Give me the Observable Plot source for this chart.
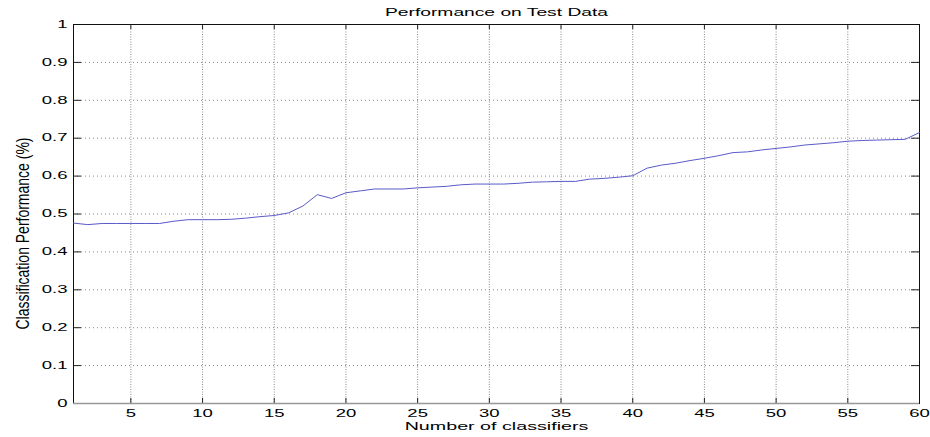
<!DOCTYPE html>
<html>
<head>
<meta charset="utf-8">
<script src="https://cdn.jsdelivr.net/npm/d3@7"></script>
<script src="https://cdn.jsdelivr.net/npm/@observablehq/plot@0.6"></script>
<style>
  html, body { margin: 0; padding: 0; background: #fff; }
  svg { display: block; }
</style>
</head>
<body>
<div id="chart"></div>
<script>
const classifiers = [1,2,3,4,5,6,7,8,9,10,11,12,13,14,15,16,17,18,19,20,21,22,23,24,25,26,27,28,29,30,
  31,32,33,34,35,36,37,38,39,40,41,42,43,44,45,46,47,48,49,50,51,52,53,54,55,56,57,58,59,60];
const performance = [0.476,0.472,0.475,0.475,0.475,0.475,0.475,0.481,0.485,0.485,
  0.485,0.486,0.489,0.493,0.496,0.503,0.521,0.551,0.541,0.556,
  0.561,0.566,0.566,0.566,0.569,0.571,0.573,0.577,0.579,0.579,
  0.579,0.581,0.584,0.585,0.586,0.586,0.592,0.594,0.597,0.601,
  0.621,0.629,0.634,0.641,0.647,0.654,0.662,0.664,0.669,0.673,
  0.677,0.682,0.685,0.688,0.692,0.694,0.695,0.696,0.697,0.715];
const xTicks = [5,10,15,20,25,30,35,40,45,50,55,60];
const xGrid = [5,10,15,20,25,30,35,40,45,50,55];
const yTicks = [0,0.1,0.2,0.3,0.4,0.5,0.6,0.7,0.8,0.9,1];
const yGrid = [0.1,0.2,0.3,0.4,0.5,0.6,0.7,0.8,0.9];
const titleText = "Performance on Test Data";
const xLabel = "Number of classifiers";
const yLabel = "Classification Performance (%)";

const data = classifiers.map((c, i) => ({n: c, p: performance[i]}));

const W = 930, H = 437, mL = 73, mR = 11, mT = 24, mB = 34;
const fw = W - mL - mR, fh = H - mT - mB;

const svg = Plot.plot({
  width: W, height: H,
  marginLeft: mL, marginRight: mR, marginTop: mT, marginBottom: mB,
  style: {fontFamily: "'Liberation Sans', Arial, sans-serif", fontSize: "10px", background: "#fff", color: "#000"},
  x: {domain: [1, 60], axis: null},
  y: {domain: [0, 1], axis: null},
  marks: [
    Plot.gridX(xGrid, {stroke: "#888", strokeOpacity: 1, strokeDasharray: "1,1.5"}),
    Plot.gridY(yGrid, {stroke: "#888", strokeOpacity: 1, strokeDasharray: "1,3"}),
    Plot.tickX(xTicks, {x: d => d, insetTop: fh - 5, stroke: "#222"}),
    Plot.tickX(xTicks, {x: d => d, insetBottom: fh - 5, stroke: "#222"}),
    Plot.tickY(yTicks, {y: d => d, insetRight: fw - 8, stroke: "#222"}),
    Plot.tickY(yTicks, {y: d => d, insetLeft: fw - 8, stroke: "#222"}),
    Plot.frame({stroke: "#111"}),
    Plot.ruleY([0], {stroke: "#999", strokeWidth: 1.5}),
    Plot.line(data, {x: "n", y: "p", stroke: "#5a5ac8", strokeWidth: 1}),
    Plot.axisX(xTicks, {tickSize: 0, tickPadding: 6, label: null, fontSize: 10, tickFormat: d => String(d)}),
    Plot.axisY(yTicks, {tickSize: 0, tickPadding: 6, label: null, fontSize: 10, tickFormat: d3.format("~g")}),
    Plot.text([titleText], {text: d => d, frameAnchor: "top", dy: -12, lineAnchor: "middle", textAnchor: "middle", fontSize: 11}),
    Plot.text([xLabel], {text: d => d, frameAnchor: "bottom", dy: 23, lineAnchor: "middle", textAnchor: "middle", fontSize: 11}),
    Plot.text([yLabel], {text: d => d, frameAnchor: "left", dx: -50, dy: 19.5, rotate: -90, lineAnchor: "middle", textAnchor: "middle", fontSize: 14})
  ]
});

// emulate the horizontally stretched look of the original figure
d3.select(svg).selectAll("text").each(function() {
  const t = this.getAttribute("transform");
  if (!t) return;
  const s = this.textContent;
  let sc;
  if (s === titleText) sc = " scale(1.75,1)";
  else if (s === xLabel) sc = " scale(1.79,1)";
  else if (s === yLabel) sc = " scale(1,1.3)";
  else sc = " scale(1.85,1)";
  this.setAttribute("transform", t + sc);
});

document.getElementById("chart").appendChild(svg);
</script>
</body>
</html>
